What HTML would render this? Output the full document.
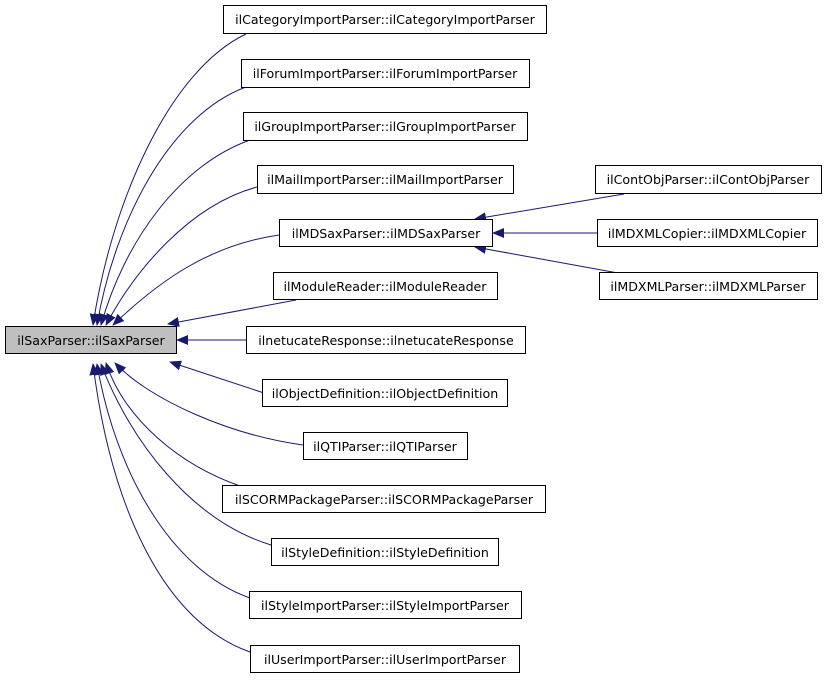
<!DOCTYPE html>
<html><head><meta charset="utf-8"><style>
html,body{margin:0;padding:0;background:#fff;width:824px;height:680px;overflow:hidden}
svg{display:block}
text{font-family:"DejaVu Sans","Liberation Sans",sans-serif;font-size:12.6px;fill:#000}
</style></head><body>
<svg width="824" height="680" viewBox="0 0 824 680" xmlns="http://www.w3.org/2000/svg">
<defs>
<marker id="a" viewBox="0 0 12 10" refX="11" refY="5" markerWidth="12" markerHeight="10" markerUnits="userSpaceOnUse" orient="auto">
<path d="M0,0 L12,5 L0,10 z" fill="#191970"/>
</marker>
</defs>
<g fill="none" stroke="#191970" stroke-width="1" marker-end="url(#a)">
<path d="M246,34 C170,70 112,200 93,325"/>
<path d="M246,87 C170,115 115,220 97,325"/>
<path d="M250,140 C180,165 125,240 101,325"/>
<path d="M257,187 C190,205 135,270 106,325"/>
<path d="M279,235 C210,245 160,280 113,325"/>
<path d="M296,300 L168,324"/>
<path d="M246,340 L177,340"/>
<path d="M264,393 L170,362"/>
<path d="M303,445 C230,435 150,400 115,363"/>
<path d="M240,486 C180,465 125,420 106,363"/>
<path d="M271,545 C190,520 130,440 101,364"/>
<path d="M250,598 C170,570 115,470 97,364"/>
<path d="M250,652 C160,620 110,500 93,364"/>
<path d="M624,194 L475,219"/>
<path d="M597,233 L493,233"/>
<path d="M618,273 L475,247"/>
</g>
<g stroke="#000" stroke-width="1" fill="#fff">
<rect x="5.5" y="326.5" width="171" height="27" fill="#bfbfbf"/>
<rect x="223.5" y="5.5" width="323" height="28"/>
<rect x="241.5" y="59.5" width="288" height="28"/>
<rect x="243.5" y="112.5" width="284" height="28"/>
<rect x="257.5" y="165.5" width="256" height="28"/>
<rect x="279.5" y="219.5" width="213" height="27"/>
<rect x="273.5" y="272.5" width="224" height="27"/>
<rect x="246.5" y="326.5" width="279" height="27"/>
<rect x="262.5" y="379.5" width="245" height="27"/>
<rect x="303.5" y="432.5" width="164" height="27"/>
<rect x="222.5" y="485.5" width="323" height="27"/>
<rect x="271.5" y="538.5" width="227" height="27"/>
<rect x="249.5" y="591.5" width="272" height="27"/>
<rect x="250.5" y="645.5" width="269" height="27"/>
<rect x="595.5" y="165.5" width="226" height="28"/>
<rect x="597.5" y="219.5" width="220" height="27"/>
<rect x="599.5" y="272.5" width="218" height="27"/>
</g>
<g text-anchor="middle">
<text x="91" y="345">ilSaxParser::ilSaxParser</text>
<text x="385" y="24">ilCategoryImportParser::ilCategoryImportParser</text>
<text x="385" y="78">ilForumImportParser::ilForumImportParser</text>
<text x="385" y="131">ilGroupImportParser::ilGroupImportParser</text>
<text x="385" y="184">ilMailImportParser::ilMailImportParser</text>
<text x="386" y="238">ilMDSaxParser::ilMDSaxParser</text>
<text x="385" y="291">ilModuleReader::ilModuleReader</text>
<text x="386" y="345">ilnetucateResponse::ilnetucateResponse</text>
<text x="385" y="398">ilObjectDefinition::ilObjectDefinition</text>
<text x="385" y="451">ilQTIParser::ilQTIParser</text>
<text x="384" y="504">ilSCORMPackageParser::ilSCORMPackageParser</text>
<text x="385" y="557">ilStyleDefinition::ilStyleDefinition</text>
<text x="385" y="610">ilStyleImportParser::ilStyleImportParser</text>
<text x="385" y="664">ilUserImportParser::ilUserImportParser</text>
<text x="708" y="184">ilContObjParser::ilContObjParser</text>
<text x="707" y="238">ilMDXMLCopier::ilMDXMLCopier</text>
<text x="708" y="291">ilMDXMLParser::ilMDXMLParser</text>
</g>
</svg>
</body></html>
